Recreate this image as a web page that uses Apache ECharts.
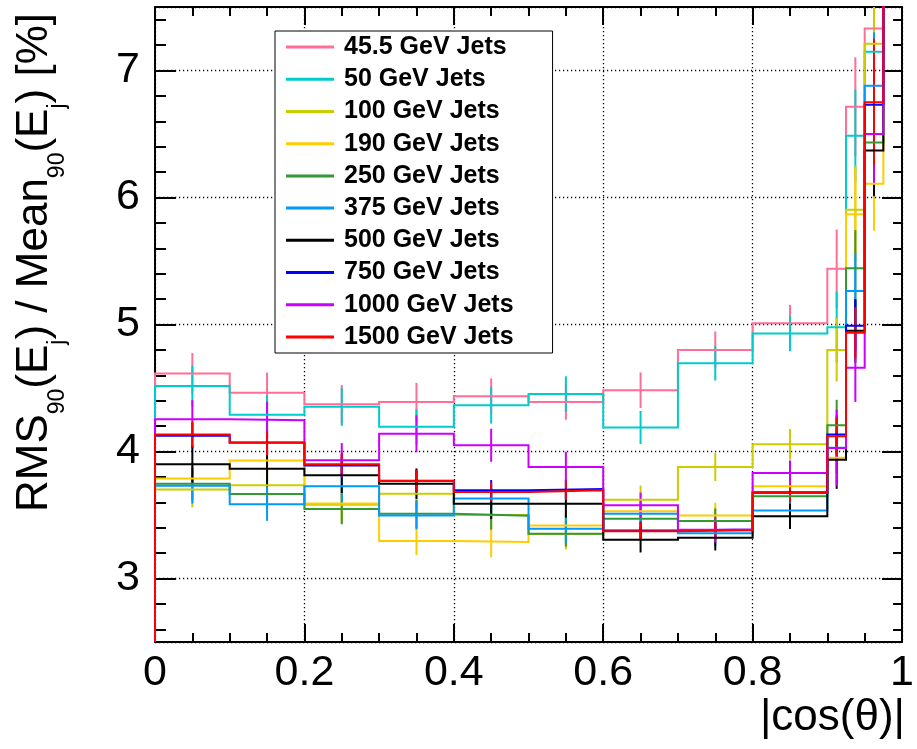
<!DOCTYPE html>
<html><head><meta charset="utf-8">
<script src="https://cdn.jsdelivr.net/npm/echarts@6/dist/echarts.min.js"></script>
<style>html,body{margin:0;padding:0;background:#fff}#c{width:917px;height:749px}</style>
</head><body><div id="c"></div>
<script>
// ---- data ----
const binEdges = [0, 0.1, 0.2, 0.3, 0.4, 0.5, 0.6, 0.7, 0.8, 0.9, 0.925, 0.95, 0.975, 1.0];
const seriesNames = ['45.5 GeV Jets','50 GeV Jets','100 GeV Jets','190 GeV Jets','250 GeV Jets','375 GeV Jets','500 GeV Jets','750 GeV Jets','1000 GeV Jets','1500 GeV Jets'];
const seriesColors = ['#ff6e96','#00cccc','#cccc00','#ffcc00','#339933','#0099ff','#000000','#0000ff','#cc00ff','#ff0000'];

// bin contents (last bin 0.975-1.0 is above the plotted range)
const v45  = [4.615, 4.462, 4.373, 4.390, 4.436, 4.390, 4.483, 4.800, 5.010, 5.438, 6.714, 7.330, 8.4];
const v50  = [4.515, 4.290, 4.352, 4.194, 4.365, 4.452, 4.189, 4.694, 4.930, 4.978, 6.487, 7.147, 8.2];
const v100 = [3.700, 3.734, 3.580, 3.668, 3.500, 3.350, 3.621, 3.878, 4.057, 4.800, 5.903, 7.210, 8.3];
const v190 = [3.787, 3.930, 3.590, 3.295, 3.287, 3.418, 3.529, 3.497, 3.726, 3.950, 5.869, 6.108, 7.9];
const v250 = [3.747, 3.665, 3.547, 3.510, 3.495, 3.353, 3.470, 3.452, 3.647, 4.207, 5.443, 6.434, 8.0];
const v375 = [3.730, 3.584, 3.726, 3.497, 3.629, 3.392, 3.510, 3.357, 3.536, 4.030, 5.264, 6.880, 8.1];
const v500 = [3.900, 3.865, 3.813, 3.747, 3.589, 3.589, 3.305, 3.321, 3.490, 3.936, 4.950, 6.370, 7.8];
const v750 = [4.125, 4.070, 3.890, 3.770, 3.695, 3.705, 3.378, 3.385, 3.680, 4.134, 4.990, 6.730, 7.9];
const v1000= [4.254, 4.247, 3.931, 4.140, 4.049, 3.878, 3.576, 3.384, 3.830, 4.028, 4.660, 6.500, 7.8];
const v1500= [4.134, 4.068, 3.900, 3.768, 3.681, 3.694, 3.373, 3.379, 3.673, 4.120, 4.935, 6.750, 8.0];

// statistical errors (null = not shown)
const e45  = [0.16, 0.16, 0.15, 0.15, 0.14, 0.14, 0.14, 0.145, 0.145, 0.31, 0.39, 0.45, null];
const e50  = [0.16, 0.15, 0.15, 0.14, 0.145, 0.14, 0.13, 0.135, 0.14, 0.28, 0.36, 0.42, null];
const e100 = [0.14, 0.13, 0.14, 0.12, 0.12, 0.12, 0.11, 0.11, 0.12, 0.25, 0.35, 0.40, null];
const e190 = [0.13, 0.13, 0.12, 0.11, 0.12, 0.11, 0.10, 0.10, 0.12, 0.20, 0.36, 0.37, null];
const e250 = [0.13, 0.12, 0.12, 0.11, 0.11, 0.10, 0.10, 0.10, 0.11, 0.20, 0.30, 0.35, null];
const e375 = [0.14, 0.13, 0.14, 0.11, 0.11, 0.11, 0.10, 0.10, 0.10, 0.20, 0.30, 0.42, null];
const e500 = [0.15, 0.14, 0.14, 0.12, 0.12, 0.11, 0.10, 0.10, 0.10, 0.23, 0.25, 0.36, null];
const e750 = [0.10, 0.10, 0.09, 0.085, 0.08, 0.075, 0.07, 0.07, 0.08, 0.15, 0.20, 0.35, null];
const e1000= [0.15, 0.145, 0.135, 0.145, 0.13, 0.12, 0.10, 0.10, 0.10, 0.30, 0.27, 0.40, null];
const e1500= [0.10, 0.095, 0.09, 0.085, 0.075, 0.075, 0.07, 0.07, 0.07, 0.15, 0.20, 0.50, null];

const xTicks = [0, 0.2, 0.4, 0.6, 0.8, 1];
const Y_MIN = 2.5, Y_MAX = 7.5;
const xTitle = '|cos(\u03b8)|';

const allValues = [v45, v50, v100, v190, v250, v375, v500, v750, v1000, v1500];
const allErrors = [e45, e50, e100, e190, e250, e375, e500, e750, e1000, e1500];

// ---- build ----
const FONT = "'Liberation Sans', Arial, Helvetica, sans-serif";
const series = [];
allValues.forEach((vals, i) => {
  const color = seriesColors[i];
  const stepData = [[binEdges[0], Y_MIN]];
  vals.forEach((v, k) => stepData.push([binEdges[k], v]));
  stepData.push([binEdges[binEdges.length - 1], vals[vals.length - 1]]);
  series.push({
    type: 'line', name: seriesNames[i], data: stepData, step: 'end',
    symbol: 'none', clip: true, silent: true,
    lineStyle: { color: color, width: 2, cap: 'butt', join: 'miter' },
    itemStyle: { color: color }
  });
  const errData = [];
  allErrors[i].forEach((e, k) => {
    if (e != null) errData.push([(binEdges[k] + binEdges[k + 1]) / 2, vals[k], e]);
  });
  series.push({
    type: 'custom', name: seriesNames[i], data: errData, clip: true, silent: true,
    itemStyle: { color: color },
    encode: { x: 0, y: 1 },
    renderItem: function (params, api) {
      const x = api.value(0), v = api.value(1), e = api.value(2);
      const p1 = api.coord([x, v - e]);
      const p2 = api.coord([x, v + e]);
      return { type: 'line', shape: { x1: p1[0], y1: p1[1], x2: p2[0], y2: p2[1] },
               style: { stroke: color, lineWidth: 2 } };
    }
  });
});

const frameLine = { show: true, onZero: false, lineStyle: { color: '#000', width: 2 } };
const grid = { left: 155, right: 10, top: 7, bottom: 107 };
const gridDots = { color: '#000', type: [1.2, 2.8], width: 1.3 };

const option = {
  animation: false,
  backgroundColor: '#fff',
  grid: grid,
  legend: {
    data: seriesNames, orient: 'vertical', left: 275, top: 31,
    padding: [0, 39, 0, 11], backgroundColor: '#fff', borderColor: '#000', borderWidth: 1,
    itemWidth: 48, itemHeight: 3, itemGap: 0, icon: 'rect', selectedMode: false,
    textStyle: { fontSize: 25, fontWeight: 'bold', color: '#000', fontFamily: FONT, lineHeight: 32.2, padding: [0, 0, 0, 5] }
  },
  xAxis: [{
    type: 'value', min: xTicks[0], max: xTicks[xTicks.length - 1], interval: 0.2, position: 'bottom',
    axisLine: frameLine,
    axisTick: { show: true, inside: true, length: 18, lineStyle: { color: '#000', width: 2 } },
    minorTick: { show: true, splitNumber: 4, length: 9, lineStyle: { color: '#000', width: 2 } },
    axisLabel: { show: true, fontSize: 43, color: '#000', fontFamily: FONT, margin: 10 },
    splitLine: { show: true, lineStyle: gridDots }
  }, {
    type: 'value', min: xTicks[0], max: xTicks[xTicks.length - 1], interval: 0.2, position: 'top',
    axisLine: frameLine,
    axisTick: { show: true, inside: true, length: 18, lineStyle: { color: '#000', width: 2 } },
    minorTick: { show: true, splitNumber: 4, length: 9, lineStyle: { color: '#000', width: 2 } },
    axisLabel: { show: false }, splitLine: { show: false }
  }],
  yAxis: [{
    type: 'value', min: Y_MIN, max: Y_MAX, position: 'left',
    axisLine: frameLine,
    axisTick: { show: true, inside: true, length: 21, lineStyle: { color: '#000', width: 2 } },
    minorTick: { show: true, splitNumber: 5, length: 11, lineStyle: { color: '#000', width: 2 } },
    axisLabel: { show: true, fontSize: 43, color: '#000', fontFamily: FONT, margin: 15, showMinLabel: false, showMaxLabel: false },
    splitLine: { show: true, lineStyle: gridDots }
  }, {
    type: 'value', min: Y_MIN, max: Y_MAX, position: 'right',
    axisLine: frameLine,
    axisTick: { show: true, inside: true, length: 20, lineStyle: { color: '#000', width: 2 } },
    minorTick: { show: true, splitNumber: 5, length: 9, lineStyle: { color: '#000', width: 2 } },
    axisLabel: { show: false }, splitLine: { show: false }
  }],
  graphic: [{
    type: 'text', x: 13, y: 512, rotation: Math.PI / 2, silent: true,
    style: {
      text: '{a|RMS}{s|90}{a|(E}{s|j}{a|) / Mean}{s|90}{a|(E}{s|j}{a|) [%]}',
      align: 'left', verticalAlign: 'top', textAlign: 'left', textVerticalAlign: 'top',
      fill: '#000',
      rich: {
        a: { fontSize: 44, fontFamily: FONT, lineHeight: 44, verticalAlign: 'top', fill: '#000', color: '#000' },
        s: { fontSize: 23, fontFamily: FONT, lineHeight: 23, padding: [33, 0, 0, 0], verticalAlign: 'top', fill: '#000', color: '#000' }
      }
    }
  }, {
    type: 'text', x: 905, y: 718, silent: true,
    style: { text: xTitle, font: '44px ' + FONT, fill: '#000', align: 'right', verticalAlign: 'middle', textAlign: 'right', textVerticalAlign: 'middle' }
  }],
  series: series
};

const chart = echarts.init(document.getElementById('c'), null, { renderer: 'canvas' });
chart.setOption(option);
</script>
</body></html>
